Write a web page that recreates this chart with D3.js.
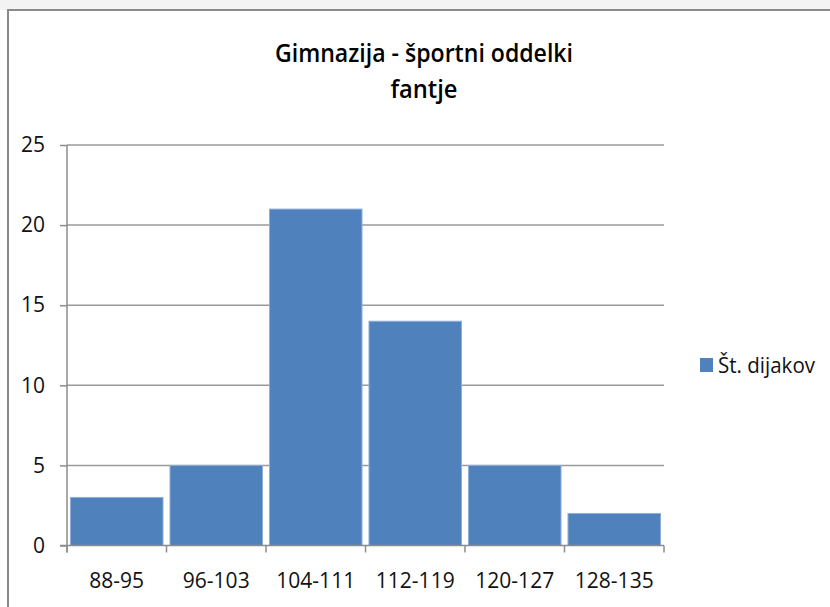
<!DOCTYPE html>
<html>
<head>
<meta charset="utf-8">
<script src="https://cdn.jsdelivr.net/npm/d3@7/dist/d3.min.js"></script>
<style>
  body { margin: 0; background: #fff; }
  svg { display: block; font-family: "Open Sans", sans-serif; }
</style>
</head>
<body>
<svg id="chart" width="830" height="607"></svg>
<script>
// data
var categories = ['88-95', '96-103', '104-111', '112-119', '120-127', '128-135'];
var counts = [3, 5, 21, 14, 5, 2];
var yTicks = [0, 5, 10, 15, 20, 25];
var titleLines = ['Gimnazija - športni oddelki', 'fantje'];
var seriesName = 'Št. dijakov';

var svg = d3.select('#chart');

// faint band above the chart frame
svg.append('rect')
  .attr('x', 0).attr('y', 0)
  .attr('width', 830).attr('height', 10)
  .attr('fill', '#f3f3f3');

// chart frame (top + left edges visible)
svg.append('path')
  .attr('d', 'M8,607 V10 H830')
  .attr('fill', 'none')
  .attr('stroke', '#8a8a8a')
  .attr('stroke-width', 2);

var plot = { left: 67, right: 664, top: 145, bottom: 545.5 };

var x = d3.scaleBand()
  .domain(categories)
  .range([plot.left, plot.right])
  .paddingInner(0.07)
  .paddingOuter(0.035);

var y = d3.scaleLinear()
  .domain([0, 25])
  .range([plot.bottom, plot.top]);

// gridlines
svg.append('g')
  .selectAll('line')
  .data(yTicks.filter(d => d > 0))
  .join('line')
  .attr('x1', plot.left)
  .attr('x2', plot.right)
  .attr('y1', d => y(d))
  .attr('y2', d => y(d))
  .attr('stroke', '#9a9a9a')
  .attr('stroke-width', 1.5);

// bars
svg.append('g')
  .selectAll('rect')
  .data(counts)
  .join('rect')
  .attr('x', (d, i) => x(categories[i]))
  .attr('y', d => y(d))
  .attr('width', x.bandwidth())
  .attr('height', d => y(0) - y(d))
  .attr('fill', '#4f81bd')
  .attr('stroke', '#8fafd8')
  .attr('stroke-width', 1);

// y axis
var yAxis = svg.append('g')
  .attr('transform', `translate(${plot.left},0)`)
  .call(d3.axisLeft(y).tickValues(yTicks).tickSize(7).tickPadding(15));
yAxis.select('.domain').attr('d', `M0,${plot.top}V${plot.bottom + 7}`);

// x axis, ticks at category boundaries
var bounds = categories.map(c => x(c) - x.step() * x.paddingInner() / 2);
bounds[0] = plot.left;
bounds.push(plot.right);

var xAxis = svg.append('g');
xAxis.append('line')
  .attr('x1', plot.left - 7).attr('x2', plot.right)
  .attr('y1', plot.bottom).attr('y2', plot.bottom);
xAxis.selectAll('line.tick')
  .data(bounds)
  .join('line')
  .attr('class', 'tick')
  .attr('x1', d => d).attr('x2', d => d)
  .attr('y1', plot.bottom).attr('y2', plot.bottom + 7);
xAxis.selectAll('line')
  .attr('stroke', '#8c8c8c')
  .attr('stroke-width', 1.5);

xAxis.selectAll('text')
  .data(categories)
  .join('text')
  .attr('x', d => x(d) + x.bandwidth() / 2)
  .attr('y', 588)
  .attr('text-anchor', 'middle')
  .attr('font-size', 21)
  .attr('fill', '#111')
  .text(d => d);

yAxis.selectAll('.tick line').attr('stroke', '#8c8c8c').attr('stroke-width', 1.5);
yAxis.select('.domain').attr('stroke', '#8c8c8c').attr('stroke-width', 1.5);
yAxis.selectAll('.tick text')
  .attr('font-size', 21)
  .attr('fill', '#111')
  .attr('font-family', '"Open Sans", sans-serif');

// title
svg.append('g')
  .selectAll('text')
  .data(titleLines)
  .join('text')
  .attr('x', 424)
  .attr('y', (d, i) => 62 + i * 36)
  .attr('text-anchor', 'middle')
  .attr('font-size', 26)
  .attr('font-weight', 600)
  .attr('fill', '#000')
  .attr('textLength', (d, i) => i === 0 ? 298 : 67)
  .attr('lengthAdjust', 'spacingAndGlyphs')
  .text(d => d);

// legend
var legend = svg.append('g').attr('transform', 'translate(700,358)');
legend.append('rect')
  .attr('width', 13).attr('height', 14)
  .attr('fill', '#4f81bd');
legend.append('text')
  .attr('x', 18).attr('y', 15)
  .attr('font-size', 21)
  .attr('fill', '#111')
  .attr('textLength', 97)
  .attr('lengthAdjust', 'spacingAndGlyphs')
  .text(seriesName);
</script>
</body>
</html>
